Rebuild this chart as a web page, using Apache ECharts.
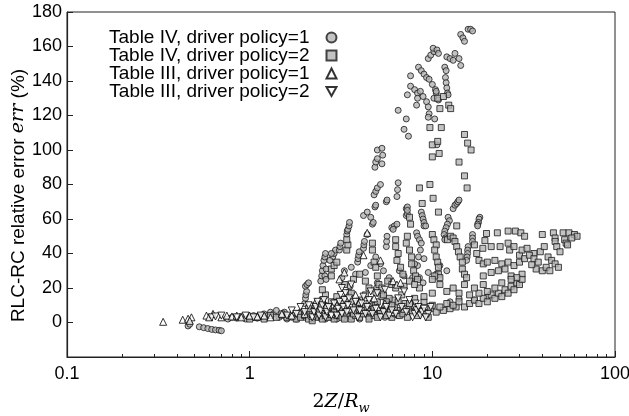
<!DOCTYPE html>
<html>
<head>
    <meta charset="utf-8">
    <title>RLC-RC error</title>
    <script src="https://cdn.jsdelivr.net/npm/echarts@6/dist/echarts.min.js"></script>
</head>
<body style="margin:0">
    <div id="main" style="width:629px;height:416px;"></div>
    <script type="text/javascript">
        var seriesNames = ['Table IV, driver policy=1', 'Table IV, driver policy=2',
                           'Table III, driver policy=1', 'Table III, driver policy=2'];

        // minor ticks of the log axis
        var minorTicks = [0.2, 0.3, 0.4, 0.5, 0.6, 0.7, 0.8, 0.9,
                          2, 3, 4, 5, 6, 7, 8, 9,
                          20, 30, 40, 50, 60, 70, 80, 90];

        // [2Z/Rw, err %]
        var circlesIV1 = [
            [0.46,-2],[0.47,-1],[0.53,-2.5],[0.56,-3],[0.59,-3.5],[0.62,-4],[0.65,-4.3],[0.68,-4.5],[0.70,-4.8],
            [0.76,2],[0.8,3],[0.85,2.5],[0.9,3.5],[0.95,2],[1.0,3],[1.05,4],[1.1,2.5],[1.15,3.5],[1.2,5],[1.25,4],
            [1.3,6],[1.35,5],[1.4,7],[1.45,3],[1.5,4],[1.55,6],[1.6,2],[1.7,3],[1.8,2],[1.85,4],[1.9,6],[2.0,3],
            [2.1,5],[2.2,2],[2.3,4],[2.4,3],[2.6,2],[2.8,3],[3.0,2],[3.3,4],[3.6,3],[4.0,2],[4.5,3],[5.0,4],
            [5.5,3],[6.0,5],[6.5,4],
            [2.2,7],[2.5,5],[2.9,7],[3.4,6],[3.8,7],[4.3,6],[4.8,6],[5.4,7],[6.2,8],[7.0,5],[7.6,7],[8.5,5],[9.4,6],
            [2.0,11],[2.02,14],[2.03,16],[2.05,18],[2.02,21],[2.06,22],[2.1,23],
            [2.45,24],[2.48,27],[2.5,30],[2.52,33],[2.55,36],[2.58,38],[2.6,40],
            [2.85,38],[2.9,40],[2.95,42],[3.1,42],[3.12,44],[3.15,46],
            [3.4,51],[3.42,53],[3.45,54],[3.5,56],[3.52,58],
            [3.9,35],[3.92,37],[3.95,39],[3.98,41],[4.2,43],[4.22,45],[4.25,47],[4.4,51],
            [4.7,57],[4.75,58],[4.85,67],[4.9,68],[4.8,74],[4.9,76],[5.0,78],[5.2,80],
            [5.6,70],[5.65,71],[6.0,55],[6.2,56],[6.4,57],[6.1,54],[6.4,73],[6.45,77],[6.5,81],
            [5.6,44],[5.62,47],[5.65,50],
            [4.85,90],[4.9,93],[5.0,95],[5.0,100],[5.3,92],[5.35,97],[5.3,101],
            [6.5,123],[7.0,112],[7.4,108],[7.2,118],[7.3,132],
            [4.9,17],[4.95,20],[5.0,23],[3.5,18],[3.55,21],
            [7.2,66],[7.3,67],[7.2,62],[7.3,63],[7.3,65],
            [13.0,66],[13.3,68],[13.6,69],[13.8,70],[14.0,71],
            [8.7,64],[8.8,62],[8.9,60],[9.0,58],[9.0,56],[9.2,56],
            [12.2,61],[12.4,59],[12.1,57],[11.9,55],[11.7,53],[11.6,51],[11.8,49],[11.7,48],
            [18.2,61],[18.0,60],[17.9,58],[17.7,57],[17.7,56],
            [16.6,51],[16.6,49],[16.6,47],
            [15.7,44],[15.6,42],[15.6,40],[15.5,38],[15.4,36],
            [8.2,52],[8.3,50],[8.5,48],[8.7,46],[8.6,42],[8.4,38],[8.3,33],[8.5,26],[8.9,23],
            [9.5,153],[9.8,155],[10.2,157],[10.1,159],[10.6,158],[10.8,156],
            [12.0,154],[12.5,153],[13.0,152],[13.3,156],[14.0,153],[14.3,149],
            [11.7,148],[11.9,146],[11.8,142],[11.9,139],[12.0,136],[12.1,133],[12.2,132],
            [8.4,148],[8.7,146],[9.0,144],[9.3,142],[9.6,141],[10.0,138],[10.4,135],[10.5,133],
            [7.6,143],[7.6,137],[8.0,135],[8.3,133],[8.6,134],[8.3,130],[8.2,126],[8.9,131],
            [9.3,128],[9.5,125],[9.6,121],[9.5,119],
            [10.2,130],[10.5,134],[10.8,129],[10.3,118],[10.6,103],
            [14.3,167],[14.7,165],[15.0,163],[15.7,170],[16.2,170],[16.6,169],
            [12.5,12],[14,14],[17,13],[20,15],
            [6.6,30],[7.0,27],[7.8,26],[8.0,34],[9.0,37],[9.5,29],[10.5,28],[11,33],[12,30],
            [3.2,26],[3.3,30],[3.6,32],[3.8,28],[4.3,29],[4.6,33],[4.9,38],[5.2,34],[5.4,30],[5.8,26],
            [2.3,8],[2.6,10],[2.9,12],[3.2,9],[3.6,12],[4.0,10],
            [2.8,40],[2.75,36],[2.62,31],[2.58,27],[2.62,25],
            [4.2,62],[4.4,64],[4.6,61]
        ];

        var squaresIV2 = [
            [1.0,2],[1.1,3],[1.2,2],[1.3,4],[1.4,3],[1.5,5],[1.6,3],[1.7,4],[1.8,2],[1.85,5],[1.9,3],[2.0,4],
            [2.1,2],[2.2,6],[2.3,3],[2.4,5],[2.5,2],[2.6,4],[2.7,3],[2.8,5],[2.9,2],[3.0,4],[3.2,3],[3.4,5],
            [3.6,2],[3.8,4],[4.0,3],[4.2,5],[4.5,2],[4.8,4],[5.0,3],[5.3,5],[5.6,4],[6.0,3],[6.3,5],[6.6,4],
            [2.2,1],[2.4,7],[2.7,9],[2.9,6],[3.1,8],[3.3,2],[3.5,7],[3.7,5],[3.9,11],[4.1,7],[4.4,9],[4.6,6],
            [4.9,10],[5.2,7],[5.5,8],[5.9,6],[6.4,7],[6.9,5],[7.3,3],[7.8,6],[8.3,4],[8.8,7],[9.3,5],[9.8,8],
            [10.5,6],[11.5,7],[12.5,8],[13.5,9],[9.5,3],[8.1,9],[7.1,11],[6.1,13],
            [2.1,8],[2.3,10],[2.5,13],[2.6,16],[2.5,19],[2.8,12],[3.0,15],[3.2,11],[3.4,14],[3.6,17],[3.8,9],
            [4.0,13],[4.3,16],[4.5,11],[4.8,8],[5.0,12],[5.3,15],[5.6,10],[5.8,14],[6.2,9],[6.5,12],[6.8,16],
            [7.0,8],[7.5,11],[8.0,14],
            [2.8,27],[2.8,31],[2.9,33],[3.0,35],[3.4,42],[3.45,45],[3.4,48],
            [4.7,46],[4.7,42],[4.8,35],[4.9,32],
            [5.0,27],[5.1,22],[5.3,20],[5.4,16],[5.6,12],[6.0,10],
            [10.7,130],[11.5,131],[11.0,124],[12.3,126],[12.6,124],[9.7,113],[11.2,113],[10.0,103],[10.7,105],
            [10.9,98],[10.0,96],[15.0,109],[15.6,104],[16.3,100],[14.0,93],[15.0,85],[15.5,78],
            [8.5,78],[9.7,80],[10.1,72],[8.8,69],[10.8,64],[7.5,61],[7.6,57],[13.6,56],
            [6.3,48],[6.3,44],[6.5,40],[6.4,36],[6.7,32],[6.9,28],
            [7.3,50],[7.2,46],[7.5,42],[7.7,38],[7.7,34],[7.9,30],[8.1,27],[8.3,25],
            [10.0,51],[10.2,48],[10.5,45],[10.3,42],[10.5,38],[10.7,35],[10.8,32],[10.8,28],[11.0,26],[10.3,27],[10.0,25],
            [12.1,48],[12.6,50],[13.0,49],[13.3,47],[13.6,44],[13.9,41],[14.2,38],[14.6,35],[14.6,31],[15.0,28],[15.4,26],
            [19.8,51.6],[22.7,52],[26,53],[28.5,53],[30.5,52],[32,50],[40,51],[46,52],[52,52],[56,52],[60,51],[62,50],
            [58,49],[47,49],[47,47],[48,44],[50,41],[53,48],[54,46],[55,45],
            [19.4,47.5],[18.9,43],[21,44],[23.5,44],[26,46],[26.5,42],[28,44],[30,39],[31,42],[33,43],[36,40],
            [39,41],[41,44],[43,38],[45,36],[47,34],[49,32],[37,31],[40,30],[42,32],[44,30],[35,33.5],[31,28],[27,27],
            [17,45],[17.5,40],[18,36],[19,34],[20,35],[22,36],[24,34],[26,35],[25,31],[23,30],[21,29],[19,27],
            [28,33],[30,35],[32,37],[34,39],[36,37],[38,35],
            [9,12],[10,10],[11,9],[12,11],[13,10],[14,12],[15,9],[16,11],[17,13],[18,11],[19,14],[20,12],
            [21,16],[22,14],[23,17],[24,15],[25,19],[26,17],[27,21],[28,19],[29,23],[30,22],[31,25],[29,26],
            [22,20],[20,18],[18,17],[16,16],[14,17],[12,18],[10,17],[9,15],[8.5,20],[11,22],[13,20],[15,22],
            [17,20],[19,22],[24,23],[27,25],
            [5.7,24],[6.0,22],[6.3,20],[7.0,21],[7.5,24],[8.0,22],
            [3.3,22],[3.7,25],[4.0,28],[4.3,24],[4.5,20]
        ];

        var triUpIII1 = [
            [0.336,0.4],[0.43,1.6],[0.46,2.2],[0.48,3],[0.47,1],[0.58,4],[0.6,3],[0.63,5],[0.7,3],[0.75,4],
            [0.8,3.5],[0.85,4],[0.9,3],[1.0,4],[1.1,3.5],[1.2,4],[1.3,3],[1.5,5],[1.7,4],[2.0,5],[2.2,4],
            [2.5,6],[2.8,5],[3.1,25],[3.3,29],[4.4,52],[4.2,39],[5.2,36],[6.1,24],[6.4,22],[6.7,23],
            [3.0,10],[3.5,8],[4.0,12],[4.5,7],[5.0,9],[5.5,11],[6.0,6],[7.0,8],[8.0,10],[9.0,7],
            [2.3,12],[2.6,9],[3.8,16],[4.8,14]
        ];

        var triDownIII2 = [
            [0.62,3],[0.65,3.5],[0.7,4],[0.85,3],[0.95,4],[1.05,3],[1.15,4],
            [1.6,4],[1.7,7],[1.8,5],[1.9,9],[2.0,6],[2.1,10],
            [2.2,3],[2.25,6],[2.3,9],[2.35,12],[2.4,4],[2.45,7],[2.5,10],[2.55,13],[2.6,3],[2.65,6],[2.7,9],
            [2.8,4],[2.9,11],[3.7,7],[3.8,12],[4.7,5],[4.9,8],[6.3,5],[6.8,9],[7.2,6],[8.1,11],[9.5,5],[9.8,9],
            [3.0,4],[3.05,8],[3.1,12],[3.15,16],[3.2,5],[3.25,9],[3.3,13],[3.35,17],[3.4,6],[3.45,10],[3.5,14],
            [3.9,3],[4.0,7],[4.1,11],[4.2,15],[4.3,5],[4.4,9],[4.5,13],
            [5.2,3],[5.4,6],[5.6,9],[5.8,4],[6.0,7],
            [7.8,3],[8.0,5],[8.2,7],[8.4,9],[8.6,4],[8.8,6],[9.0,8],[9.2,3],
            [5.0,17],[5.5,19],[6.5,14],[7.0,18],[7.5,13],
            [3.2,20],[3.6,22],[4.6,18]
        ];

        var font = 'Liberation Sans';
        var myChart = echarts.init(document.getElementById('main'));

        var gray = {color: '#b4b4b4', borderColor: '#1a1a1a', borderWidth: 1};
        var white = {color: '#ffffff', borderColor: '#000', borderWidth: 1};

        var option = {
            animation: false,
            grid: {
                left: 67, right: 14, top: 12, bottom: 59,
                show: true, borderColor: '#222', borderWidth: 1,
                outerBoundsMode: 'none'
            },
            legend: {
                orient: 'vertical',
                left: 104, top: 23,
                align: 'right',
                itemWidth: 10, itemHeight: 10,
                itemGap: -1,
                textStyle: {fontFamily: font, fontSize: 19, color: '#000', lineHeight: 17, padding: [0, 12, 0, 0]},
                data: seriesNames
            },
            xAxis: [{
                type: 'log',
                logBase: 10,
                min: 0.1, max: 100,
                name: '{a|2}{i|Z}{a|/}{i|R}{s|w}',
                nameLocation: 'middle',
                nameGap: 33,
                nameMoveOverlap: false,
                nameTextStyle: {
                    rich: {
                        a: {fontFamily: 'DejaVu Serif', fontSize: 19, color: '#000'},
                        i: {fontFamily: 'DejaVu Serif', fontStyle: 'italic', fontSize: 19, color: '#000'},
                        s: {fontFamily: 'DejaVu Serif', fontStyle: 'italic', fontSize: 13, color: '#000', padding: [12, 0, 0, 0]}
                    }
                },
                axisLine: {onZero: false, lineStyle: {color: '#222', width: 1.2}},
                axisTick: {inside: true, length: 6, lineStyle: {color: '#222'}},
                axisLabel: {fontFamily: font, fontSize: 18, color: '#000', margin: 8,
                    formatter: function (v) { return String(v); }},
                splitLine: {show: false}
            }, {
                type: 'log',
                logBase: 10,
                min: 0.1, max: 100,
                position: 'bottom',
                axisLine: {show: false, onZero: false},
                axisTick: {inside: true, length: 3, lineStyle: {color: '#222'}, customValues: minorTicks},
                axisLabel: {show: false},
                splitLine: {show: false}
            }],
            yAxis: {
                type: 'value',
                min: -20, max: 180, interval: 20,
                name: 'RLC-RC relative error {e|err} (%)',
                nameLocation: 'middle',
                nameGap: 39,
                nameMoveOverlap: false,
                nameTextStyle: {
                    fontFamily: font, fontSize: 19, color: '#000',
                    padding: [0, 22, 0, 0],
                    rich: {
                        e: {fontFamily: 'DejaVu Serif', fontStyle: 'italic', fontSize: 19, color: '#000'}
                    }
                },
                axisLine: {show: true, onZero: false, lineStyle: {color: '#222', width: 1.2}},
                axisTick: {show: true, inside: true, length: 6, lineStyle: {color: '#222'}},
                axisLabel: {fontFamily: font, fontSize: 18, color: '#000', margin: 5,
                    formatter: function (v) { return v < 0 ? '' : String(v); }},
                splitLine: {show: false}
            },
            series: [{
                name: seriesNames[0], type: 'scatter', symbol: 'circle', symbolSize: 6,
                itemStyle: gray, data: circlesIV1
            }, {
                name: seriesNames[1], type: 'scatter', symbol: 'rect', symbolSize: 6,
                itemStyle: gray, data: squaresIV2
            }, {
                name: seriesNames[2], type: 'scatter', symbol: 'triangle', symbolSize: 7,
                itemStyle: white, data: triUpIII1
            }, {
                name: seriesNames[3], type: 'scatter', symbol: 'path://M0,0L10,0L5,9Z', symbolSize: 7,
                itemStyle: white, data: triDownIII2
            }]
        };
        myChart.setOption(option);
    </script>
</body>
</html>
